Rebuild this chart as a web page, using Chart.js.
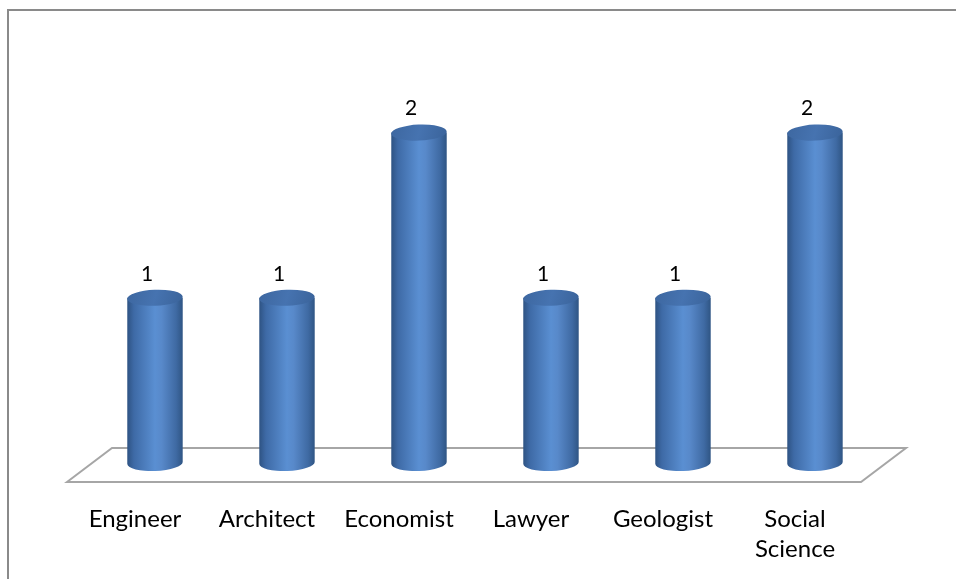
<!DOCTYPE html>
<html>
<head>
<meta charset="utf-8">
<script src="https://cdn.jsdelivr.net/npm/chart.js@4.4.1/dist/chart.umd.min.js"></script>
<style>
  html, body { margin: 0; padding: 0; background: #fff; }
  #frame { position: absolute; left: 7px; top: 9px; width: 960px; height: 580px;
           border-left: 2px solid #8a8a8a; border-top: 2px solid #8a8a8a; }
  #wrap { position: absolute; left: 0; top: 0; width: 956px; height: 579px; }
</style>
</head>
<body>
<div id="frame"></div>
<div id="wrap"><canvas id="chart"></canvas></div>
<script>
  var categories = ['Engineer', 'Architect', 'Economist', 'Lawyer', 'Geologist', ['Social', 'Science']];
  var counts = [1, 1, 2, 1, 1, 2];

  // 3D look: bars sit a bit behind the category axis
  var DEPTH_X = 20;

  var cylinderPlugin = {
    id: 'cylinders',
    beforeDatasetsDraw: function (chart) {
      var ctx = chart.ctx;
      var a = chart.chartArea;
      var base = chart.scales.y.getPixelForValue(0);
      ctx.save();
      ctx.beginPath();
      ctx.moveTo(a.left - 2, base + 19);
      ctx.lineTo(a.left + 43, base - 15);
      ctx.lineTo(a.right + 45, base - 15);
      ctx.lineTo(a.right, base + 19);
      ctx.closePath();
      ctx.fillStyle = '#ffffff';
      ctx.fill();
      ctx.strokeStyle = '#a6a6a6';
      ctx.lineWidth = 2;
      ctx.stroke();
      ctx.restore();
    },
    afterDatasetsDraw: function (chart) {
      var ctx = chart.ctx;
      var meta = chart.getDatasetMeta(0);
      meta.data.forEach(function (bar, i) {
        var x = bar.x + DEPTH_X, top = bar.y, base = bar.base;
        var rx = bar.width / 2, ry = 8, rot = -0.04;
        var left = x - rx, right = x + rx;

        var g = ctx.createLinearGradient(left, 0, right, 0);
        g.addColorStop(0, '#2e5383');
        g.addColorStop(0.12, '#3e6aa6');
        g.addColorStop(0.5, '#5a8fd2');
        g.addColorStop(0.62, '#5889ca');
        g.addColorStop(0.88, '#3f6aa3');
        g.addColorStop(1, '#2f5584');

        ctx.save();
        ctx.beginPath();
        ctx.moveTo(left, top);
        ctx.lineTo(left, base);
        ctx.ellipse(x, base, rx, ry, rot, Math.PI, 0, true);
        ctx.lineTo(right, top);
        ctx.closePath();
        ctx.fillStyle = g;
        ctx.fill();

        var tg = ctx.createLinearGradient(left, top - ry, right, top + ry);
        tg.addColorStop(0, '#3d67a0');
        tg.addColorStop(0.5, '#4673b0');
        tg.addColorStop(1, '#3a639a');
        ctx.beginPath();
        ctx.ellipse(x, top, rx, ry, rot, 0, Math.PI * 2);
        ctx.fillStyle = tg;
        ctx.fill();

        ctx.fillStyle = '#000000';
        ctx.font = '21px Lato, "Open Sans", sans-serif';
        ctx.textAlign = 'center';
        ctx.textBaseline = 'middle';
        ctx.fillText(String(counts[i]), x - 8, top - 24);
        ctx.restore();
      });
    }
  };

  new Chart(document.getElementById('chart'), {
    type: 'bar',
    data: {
      labels: categories,
      datasets: [{
        data: counts,
        backgroundColor: 'rgba(0,0,0,0)',
        borderWidth: 0,
        categoryPercentage: 1,
        barPercentage: 0.42
      }]
    },
    options: {
      responsive: true,
      maintainAspectRatio: false,
      animation: false,
      layout: { padding: { left: 69, right: 95, top: 50, bottom: 0 } },
      plugins: { legend: { display: false }, tooltip: { enabled: false } },
      scales: {
        x: {
          grid: { display: false, drawTicks: false },
          border: { display: false },
          ticks: {
            color: '#000000',
            padding: 41,
            maxRotation: 0,
            autoSkip: false,
            font: { family: 'Lato, "Open Sans", sans-serif', size: 24, lineHeight: 1.25 }
          },
          afterFit: function (scale) { scale.height = 116; }
        },
        y: {
          display: false,
          min: 0,
          max: 2.5
        }
      }
    },
    plugins: [cylinderPlugin]
  });
</script>
</body>
</html>
